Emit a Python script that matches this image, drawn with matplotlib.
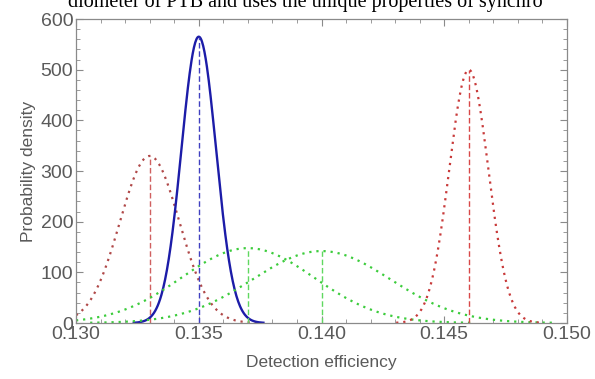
import numpy as np
import matplotlib.pyplot as plt
from matplotlib.ticker import MultipleLocator

# estimated detection efficiency distributions (mean, std)
means = [0.133, 0.135, 0.137, 0.140, 0.146]
sigmas = [0.00121, 0.000706, 0.0027, 0.00281, 0.000798]
colors = ['#b04848', '#1c1ca8', '#3ccc3c', '#3ccc3c', '#c83a3a']
vcolors = ['#d06060', '#4040c0', '#60d860', '#60d860', '#d84848']
styles = ['dotted', 'solid', 'dotted', 'dotted', 'dotted']

xticks = [0.130, 0.135, 0.140, 0.145, 0.150]
yticks = [0, 100, 200, 300, 400, 500, 600]

fig = plt.figure(figsize=(5.95, 3.79), dpi=100)
ax = fig.add_axes([76/595, 1-323/379, (567-76)/595, (323-19)/379])

x = np.linspace(0.130, 0.150, 800)
for m, s, c, vc, ls in zip(means, sigmas, colors, vcolors, styles):
    pdf = np.exp(-0.5*((x-m)/s)**2) / (s*np.sqrt(2*np.pi))
    pdf[pdf < 0.5] = np.nan
    peak = 1/(s*np.sqrt(2*np.pi))
    if ls == 'solid':
        ax.plot(x, pdf, color=c, lw=1.7)
    else:
        ax.plot(x, pdf, color=c, lw=1.6, linestyle=(0, (1, 2.2)))
    ax.plot([m, m], [0, peak], color=vc, lw=1.0, linestyle=(0, (4, 2)))

ax.set_xlim(0.130, 0.150)
ax.set_ylim(0, 600)
ax.set_xticks(xticks)
ax.set_xticklabels(['%.3f' % t for t in xticks])
ax.set_yticks(yticks)
ax.xaxis.set_minor_locator(MultipleLocator(0.001))
ax.yaxis.set_minor_locator(MultipleLocator(20))

gray = '#8a8a8a'
for sp in ax.spines.values():
    sp.set_color(gray)
    sp.set_linewidth(0.9)
ax.tick_params(which='both', direction='in', top=True, right=True, color=gray,
               labelcolor='#5a5a5a', labelsize=14)
ax.tick_params(which='major', length=5, width=0.8)
ax.tick_params(which='minor', length=3, width=0.6)
ax.tick_params(axis='x', pad=2)
ax.tick_params(axis='y', pad=2)
for lab in ax.get_xticklabels() + ax.get_yticklabels():
    lab.set_family('Liberation Sans')

ax.set_xlabel('Detection efficiency', fontsize=12.5, color='#5a5a5a',
              family='Liberation Sans', labelpad=9)
ax.set_ylabel('Probability density', fontsize=12.5, color='#5a5a5a',
              family='Liberation Sans', labelpad=3)

fig.text(68/595, 1-6.5/379, 'diometer of PTB and uses the unique properties of synchro',
         family='Liberation Serif', fontsize=14.5, va='baseline', ha='left')

fig.savefig('out.png', dpi=100)
